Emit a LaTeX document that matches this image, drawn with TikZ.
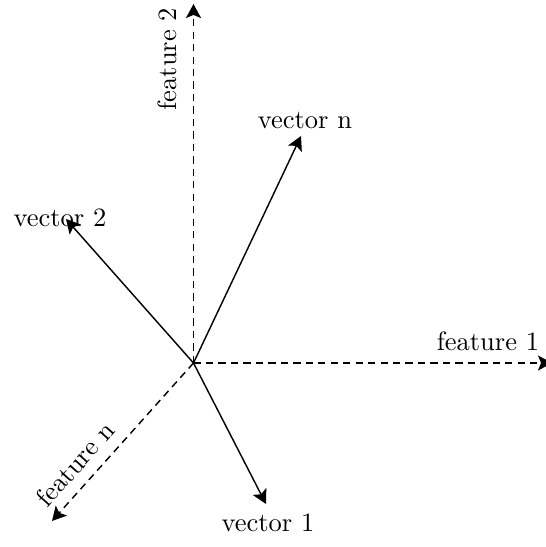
\documentclass[tikz,border=0pt]{standalone}
\usetikzlibrary{arrows.meta}
\begin{document}
\begin{tikzpicture}[x=0.385pt,y=-0.385pt,
  arr/.style={line width=0.55pt,-{Stealth[length=5.4pt,width=5.8pt,inset=1.2pt]}},
  axis/.style={arr,dash pattern=on 2.8pt off 2pt},
  lbl/.style={font=\fontsize{10.2}{12}\selectfont,inner sep=0pt}]
\useasboundingbox (0,0) rectangle (546,547);
\coordinate (O) at (193.5,363);
\coordinate (f1) at (552,363);
\coordinate (f2) at (193.5,4);
\coordinate (fn) at (52,521);
\coordinate (vn) at (301,136);
\coordinate (v2) at (66,219);
\coordinate (v1) at (266,504);
\draw[axis] (O) -- (f1);
\draw[axis] (O) -- (f2);
\draw[axis] (O) -- (fn);
\draw[arr] (O) -- (vn);
\draw[arr] (O) -- (v2);
\draw[arr] (O) -- (v1);
\node[lbl] (lf1) at (488,341) {feature 1};
\node[lbl,rotate=90] (lf2) at (167,59) {feature 2};
\node[lbl,rotate=48] (lfn) at (75,464) {feature n};
\node[lbl] (lvn) at (305,120) {vector n};
\node[lbl] (lv2) at (60,218) {vector 2};
\node[lbl] (lv1) at (268,523) {vector 1};
\end{tikzpicture}
\end{document}
